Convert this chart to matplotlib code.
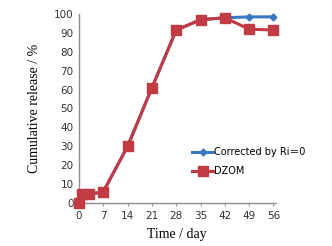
import numpy as np
from matplotlib import pyplot as plt

# data
days = [0, 1, 3, 7, 14, 21, 28, 35, 42, 49, 56]
dzom = [0, 4.5, 4.5, 6, 30, 61, 91.5, 97, 98, 92, 91.5]
corrected = [0, 4.5, 4.5, 6, 30, 61, 91.5, 97, 98, 98.5, 98.5]
xticks = [0, 7, 14, 21, 28, 35, 42, 49, 56]
yticks = [0, 10, 20, 30, 40, 50, 60, 70, 80, 90, 100]

blue = '#3a78c4'
red = '#c23a42'

fig = plt.figure(figsize=(3.32, 2.46), dpi=100)
ax = fig.add_axes([0.238, 0.175, 0.592, 0.768])

ax.plot(days, corrected, color=blue, lw=2.2, marker='D', ms=3.5,
        label='Corrected by Ri\uff1d0', zorder=2)
ax.plot(days, dzom, color=red, lw=2.2, marker='s', ms=7,
        label='DZOM', zorder=3)

ax.set_xlim(0, 56.6)
ax.set_ylim(0, 100)
ax.set_xticks(xticks)
ax.set_yticks(yticks)
ax.tick_params(axis='both', labelsize=7.5, colors='#333333', length=0, pad=4)
ax.tick_params(axis='x', length=2, color='#999999')
for lab in ax.get_xticklabels() + ax.get_yticklabels():
    lab.set_family('DejaVu Sans')

for s in ['top', 'right']:
    ax.spines[s].set_visible(False)
for s in ['left', 'bottom']:
    ax.spines[s].set_color('#8c8c8c')
    ax.spines[s].set_linewidth(1.0)
for ln in ax.lines:
    ln.set_clip_on(False)

ax.set_xlabel('Time / day', family='Liberation Serif', fontsize=10, labelpad=5)
ax.set_ylabel('Cumulative release / %', family='Liberation Serif', fontsize=10, labelpad=9)

leg = ax.legend(loc='upper left', bbox_to_anchor=(0.53, 0.34), frameon=False,
                handlelength=2.2, handletextpad=0.1, labelspacing=0.9,
                prop={'family': ['DejaVu Sans', 'Noto Sans CJK SC'], 'size': 7})

fig.savefig('out.png', dpi=100)
